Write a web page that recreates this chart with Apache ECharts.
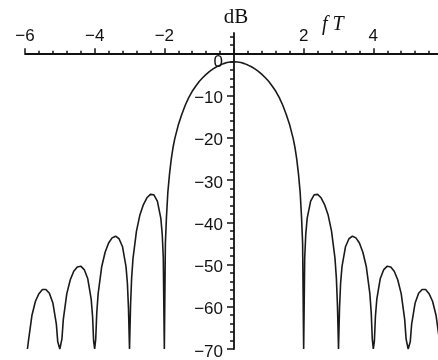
<!DOCTYPE html>
<html>
<head>
<meta charset="utf-8">
<script src="https://cdn.jsdelivr.net/npm/echarts@6/dist/echarts.min.js"></script>
<style>
  html, body { margin: 0; padding: 0; background: #fff; }
  #chart { width: 438px; height: 360px; }
</style>
</head>
<body>
<div id="chart"></div>
<script>
// Normalised frequency fT and spectrum level in dB
const fT = [
  -5.93, -5.9, -5.8, -5.7, -5.6, -5.5, -5.4, -5.3, -5.2, -5.1, -5.06,
  -5.0, -4.94, -4.9, -4.8, -4.7, -4.6, -4.5, -4.4, -4.3, -4.2, -4.1, -4.06, -4.03,
  -4.0, -3.97, -3.94, -3.9, -3.8, -3.7, -3.6, -3.5, -3.4, -3.3, -3.2, -3.1, -3.06, -3.03,
  -3.0, -2.97, -2.94, -2.9, -2.8, -2.7, -2.6, -2.5, -2.4, -2.3, -2.2, -2.1, -2.06, -2.03,
  -2.0, -1.97, -1.94, -1.9, -1.85, -1.8, -1.75, -1.7, -1.6, -1.5, -1.4, -1.3, -1.2, -1.1,
  -1.0, -0.9, -0.8, -0.7, -0.6, -0.5, -0.4, -0.3, -0.2, -0.1,
  0,
  0.1, 0.2, 0.3, 0.4, 0.5, 0.6, 0.7, 0.8, 0.9, 1.0,
  1.1, 1.2, 1.3, 1.4, 1.5, 1.6, 1.7, 1.75, 1.8, 1.85, 1.9, 1.94, 1.97, 2.0,
  2.03, 2.06, 2.1, 2.2, 2.3, 2.4, 2.5, 2.6, 2.7, 2.8, 2.9, 2.94, 2.97, 3.0,
  3.03, 3.06, 3.1, 3.2, 3.3, 3.4, 3.5, 3.6, 3.7, 3.8, 3.9, 3.94, 3.97, 4.0,
  4.03, 4.06, 4.1, 4.2, 4.3, 4.4, 4.5, 4.6, 4.7, 4.8, 4.9, 4.94, 5.0,
  5.06, 5.1, 5.2, 5.3, 5.4, 5.5, 5.6, 5.7, 5.8, 5.9, 5.93
];
const levelDb = [
  -70, -68.0, -62.0, -58.7, -56.9, -55.9, -55.9, -56.8, -59.1, -64.1, -68.3,
  -70, -67.6, -63.0, -56.9, -53.6, -51.6, -50.6, -50.4, -51.2, -53.3, -58.2, -62.3, -68.1,
  -70, -67.7, -61.5, -56.9, -50.6, -47.1, -44.9, -43.7, -43.3, -43.9, -45.8, -50.5, -54.5, -60.2,
  -70, -59.7, -53.4, -48.6, -42.1, -38.2, -35.8, -34.2, -33.4, -33.5, -35.0, -39.1, -42.9, -48.4,
  -70, -45.0, -39.0, -33.0, -28.5, -25.0, -22.3, -20.2, -17.0, -14.5, -12.3, -10.5, -9.0, -7.8,
  -6.7, -5.8, -5.0, -4.3, -3.7, -3.2, -2.8, -2.45, -2.2, -2.05,
  -2.0,
  -2.05, -2.2, -2.45, -2.8, -3.2, -3.7, -4.3, -5.0, -5.8, -6.7,
  -7.8, -9.0, -10.5, -12.3, -14.5, -17.0, -20.2, -22.3, -25.0, -28.5, -33.0, -39.0, -45.0, -70,
  -48.4, -42.9, -39.1, -35.0, -33.5, -33.4, -34.2, -35.8, -38.2, -42.1, -48.6, -53.4, -59.7, -70,
  -60.2, -54.5, -50.5, -45.8, -43.9, -43.3, -43.7, -44.9, -47.1, -50.6, -56.9, -61.5, -67.7, -70,
  -68.1, -62.3, -58.2, -53.3, -51.2, -50.4, -50.6, -51.6, -53.6, -56.9, -63.0, -67.6, -70,
  -68.3, -64.1, -59.1, -56.8, -55.9, -55.9, -56.9, -58.7, -62.0, -68.0, -70
];

// Axis ticks and their labels
const xMajorTicks = [-6, -4, -2, 0, 2, 4, 6];
const xTickLabels = ['\u22126', '\u22124', '\u22122', '', '2', '4', '6'];
const yMajorTicks = [-70, -60, -50, -40, -30, -20, -10, 0];
const yTickLabels = ['\u221270', '\u221260', '\u221250', '\u221240', '\u221230', '\u221220', '\u221210', '0'];
const yMinorTicks = [-68, -66, -64, -62, -58, -56, -54, -52, -48, -46, -44, -42,
  -38, -36, -34, -32, -28, -26, -24, -22, -18, -16, -14, -12, -8, -6, -4, -2, 2, 4];

const labelFont = 'Liberation Sans';
const ink = '#111';

// Plot frame: fT from -6 to 6, level from -70 dB up to +4.8 dB
const frame = { left: 25, top: 33, width: 418, height: 316 };
const xRange = [-6, 6];
const yRange = [-70, 4.8];
// the axes cross at the origin, so shift them in from the frame edges
const yAxisShift = frame.width * (0 - xRange[0]) / (xRange[1] - xRange[0]);
const xAxisShift = frame.height * (yRange[1] - 0) / (yRange[1] - yRange[0]);

const chart = echarts.init(document.getElementById('chart'), null, { renderer: 'canvas' });

const xLabelValues = xMajorTicks.filter((v, i) => xTickLabels[i] !== '');

chart.setOption({
  animation: false,
  backgroundColor: '#fff',
  grid: Object.assign({ containLabel: false, outerBoundsMode: 'none' }, frame),
  xAxis: {
    type: 'value',
    min: xRange[0], max: xRange[1], interval: 2,
    position: 'top',
    offset: -xAxisShift,
    axisLine: { onZero: false, lineStyle: { color: ink, width: 1.8 } },
    axisTick: { length: 5, lineStyle: { color: ink, width: 1.5 } },
    minorTick: { show: true, splitNumber: 5, length: 2.5, lineStyle: { color: ink, width: 1.5 } },
    splitLine: { show: false },
    axisLabel: {
      customValues: xLabelValues,
      margin: 8,
      color: ink,
      fontFamily: labelFont,
      fontSize: 17,
      formatter: v => xTickLabels[xMajorTicks.indexOf(v)] || ''
    }
  },
  yAxis: [
    {
      type: 'value',
      min: yRange[0], max: yRange[1],
      position: 'left',
      offset: -yAxisShift,
      name: 'dB',
      nameLocation: 'end',
      nameGap: 5,
      nameTextStyle: { fontFamily: 'Liberation Serif', fontSize: 21, color: ink, padding: [0, 0, 0, 4] },
      axisLine: { onZero: false, lineStyle: { color: ink, width: 1.8 } },
      axisTick: { customValues: yMajorTicks, length: 7, lineStyle: { color: ink, width: 1.5 } },
      splitLine: { show: false },
      axisLabel: {
        customValues: yMajorTicks,
        margin: 11,
        color: ink,
        fontFamily: labelFont,
        fontSize: 17,
        padding: [6, 0, 0, 0],
        formatter: v => {
          const t = yTickLabels[yMajorTicks.indexOf(v)] || '';
          return v === 0 ? '{zero|' + t + '}' : t;
        },
        rich: {
          zero: { fontFamily: labelFont, fontSize: 17, color: ink, padding: [12, 0, 0, 0] }
        }
      }
    },
    {
      type: 'value',
      min: yRange[0], max: yRange[1],
      position: 'left',
      offset: -yAxisShift,
      axisLine: { show: false, onZero: false },
      axisTick: { customValues: yMinorTicks, length: 4, lineStyle: { color: ink, width: 1.5 } },
      axisLabel: { show: false },
      splitLine: { show: false }
    }
  ],
  graphic: [
    {
      type: 'text',
      left: 322, top: 15,
      style: { text: 'f T', font: 'italic 20px "Liberation Serif"', fill: ink }
    }
  ],
  series: [
    {
      type: 'line',
      xAxisIndex: 0,
      yAxisIndex: 0,
      data: fT.map((f, i) => [f, levelDb[i]]),
      showSymbol: false,
      smooth: false,
      clip: true,
      lineStyle: { color: '#1a1a1a', width: 1.6 }
    }
  ]
});
</script>
</body>
</html>
